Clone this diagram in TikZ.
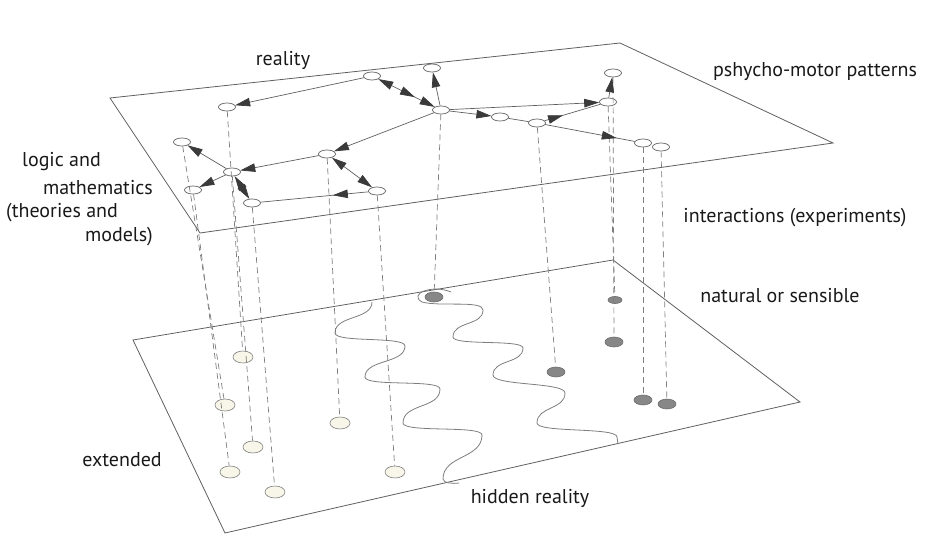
\documentclass[tikz,border=0pt]{standalone}
\usepackage{fontspec}
\setmainfont{PT Sans}
\usetikzlibrary{shapes.geometric,arrows.meta,decorations.markings}

\definecolor{edgegray}{RGB}{95,95,95}
\definecolor{dropgray}{RGB}{125,125,125}
\definecolor{tipgray}{RGB}{58,58,58}
\definecolor{cream}{RGB}{248,246,232}
\definecolor{dotgray}{RGB}{135,135,135}

\tikzset{
  plane/.style={draw=edgegray, line width=0.8pt},
  upnode/.style={ellipse, draw=edgegray, fill=white, line width=0.7pt,
    minimum width=17pt, minimum height=8pt, inner sep=0pt},
  lownode/.style={ellipse, draw=dropgray, fill=cream, line width=0.6pt,
    minimum width=20pt, minimum height=12pt, inner sep=0pt},
  sensenode/.style={ellipse, draw=dotgray!80!black, fill=dotgray, line width=0.6pt,
    minimum width=18pt, minimum height=10pt, inner sep=0pt},
  link/.style={draw=edgegray, line width=0.7pt},
  drop/.style={draw=dropgray, line width=0.7pt, dash pattern=on 6pt off 4pt},
  wave/.style={draw=dropgray, line width=0.8pt},
  midtip/.style={postaction={decorate},
    decoration={markings, mark=at position #1 with {\arrow{>}}}},
  txt/.style={font=\fontsize{20}{24}\selectfont, text=black!90, inner sep=0pt},
}

\begin{document}
\begin{tikzpicture}[x=1pt, y=-1pt, >={Triangle[length=15pt,width=8.5pt,color=tipgray]}]
  \useasboundingbox (0,0) rectangle (932,556);

  % the two planes
  \draw[plane] (110,98) -- (620,43) -- (833,143) -- (200,233) -- cycle;
  \draw[plane] (133,340) -- (613,260) -- (800,402) -- (225,533) -- cycle;

  % upper plane: logic, mathematics, patterns
  \node[upnode] (nA) at (227,107) {};
  \node[upnode] (nB) at (372,76) {};
  \node[upnode] (nC) at (182,142) {};
  \node[upnode] (nD) at (232,172) {};
  \node[upnode] (nL) at (193,190) {};
  \node[upnode] (nE) at (252,203) {};
  \node[upnode] (nF) at (327,154) {};
  \node[upnode] (nG) at (377,191) {};
  \node[upnode] (nT) at (432,68) {};
  \node[upnode] (nH) at (441,110) {};
  \node[upnode] (nI) at (500,117) {};
  \node[upnode] (nJ) at (537,123) {};
  \node[upnode] (nK) at (608,102) {};
  \node[upnode] (nM) at (613,73) {};
  \node[upnode] (nP) at (643,143) {};
  \node[upnode] (nQ) at (661,147) {};

  % lower plane: extended and sensible points
  \node[lownode] (l1) at (243,357) {};
  \node[lownode] (l2) at (225,405) {};
  \node[lownode] (l3) at (230,472) {};
  \node[lownode] (l4) at (253,447) {};
  \node[lownode] (l5) at (275,492) {};
  \node[lownode] (l6) at (340,423) {};
  \node[lownode] (l7) at (395,472) {};
  \node[sensenode] (g1) at (434,297) {};
  \node[sensenode] (g2) at (556,372) {};
  \node[sensenode, minimum width=14pt, minimum height=7pt] (g3) at (615,300) {};
  \node[sensenode] (g4) at (614,342) {};
  \node[sensenode] (g5) at (643,400) {};
  \node[sensenode] (g6) at (667,404) {};

  % hidden reality
  \draw[wave] (372,302) .. controls +(0,18) and +(0,-18) .. (335,333)
    .. controls +(0,10) and +(0,-10) .. (405,346)
    .. controls +(0,18) and +(0,-18) .. (365,377)
    .. controls +(0,10) and +(0,-10) .. (440,389)
    .. controls +(0,20) and +(0,-20) .. (403,423)
    .. controls +(0,10) and +(0,-10) .. (482,435)
    .. controls +(0,24) and +(0,-24) .. (443,479)
    .. controls +(0,4) and +(-6,1) .. (459,483);
  \draw[wave] (451,292) .. controls (432,284) and (408,294) .. (422,302)
    .. controls (440,307) and (483,300) .. (483,310)
    .. controls +(0,16) and +(0,-16) .. (453,337)
    .. controls +(0,9) and +(0,-9) .. (523,348)
    .. controls +(0,16) and +(0,-16) .. (493,375)
    .. controls +(0,11) and +(0,-11) .. (565,393)
    .. controls +(0,17) and +(0,-17) .. (537,423)
    .. controls +(0,10) and +(0,-10) .. (617,437) -- (618,444);

  % projections
  \draw[drop] (nA) -- (l1);
  \draw[drop] (nC) -- (l2);
  \draw[drop] (nL) -- (l3);
  \draw[drop] (nD) -- (l4);
  \draw[drop] (nE) -- (l5);
  \draw[drop] (nF) -- (l6);
  \draw[drop] (nG) -- (l7);
  \draw[drop] (nH) -- (g1);
  \draw[drop] (nJ) -- (g2);
  \draw[drop] (nK) -- (g3);
  \draw[drop] (nM) -- (g4);
  \draw[drop] (nP) -- (g5);
  \draw[drop] (nQ) -- (g6);

  % links on the upper plane
  \draw[link,->] (nB) -- (nA);
  \draw[link,->] (nD) -- (nC);
  \draw[link,->] (nF) -- (nD);
  \draw[link,->] (nD) -- (nL);
  \draw[link,<->] (nD) -- (nE);
  \draw[link,<->] (nF) -- (nG);
  \draw[link,midtip=0.33] (nG) -- (nE);
  \draw[link,->] (nH) -- (nF);
  \draw[link,->] (nH) -- (nT);
  \draw[link,<->,midtip=0.65] (nB) -- (nH);
  \draw[link,->] (nH) -- (nI);
  \draw[link] (nI) -- (nJ);
  \draw[link,midtip=0.8] (nJ) -- (nP);
  \draw[link,midtip=0.33] (nJ) -- (nK);
  \draw[link,->] (nH) -- (nK);
  \draw[link,->] (nK) -- (nM);

  % texts
  \node[txt] (treal) at (283,60) {reality};
  \node[txt] (tpsy) at (815,72) {pshycho-motor patterns};
  \node[txt, anchor=west] (tlog1) at (22,162) {logic and};
  \node[txt, anchor=east] (tlog2) at (153,188) {mathematics};
  \node[txt, anchor=west] (tlog3) at (6,213) {(theories and};
  \node[txt, anchor=east] (tlog4) at (153,237) {models)};
  \node[txt] (tint) at (795,218) {interactions (experiments)};
  \node[txt] (tnat) at (780,296) {natural or sensible};
  \node[txt] (text) at (122,460) {extended};
  \node[txt] (thid) at (530,498) {hidden reality};
\end{tikzpicture}
\end{document}
